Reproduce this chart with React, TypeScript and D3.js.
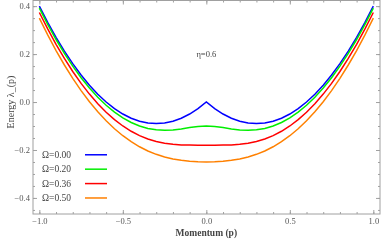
import React, { useEffect, useRef } from "react";
import * as d3 from "d3";

const momentum = [
  -1.0, -0.95, -0.9, -0.85, -0.8, -0.75, -0.7, -0.65, -0.6, -0.55, -0.5, -0.45, -0.4, -0.35, -0.3, -0.25, -0.2, -0.15, -0.1, -0.05,
  0.0, 0.05, 0.1, 0.15, 0.2, 0.25, 0.3, 0.35, 0.4, 0.45, 0.5, 0.55, 0.6, 0.65, 0.7, 0.75, 0.8, 0.85, 0.9, 0.95, 1.0,
];

const energyOmega000 = [
  0.4, 0.3325, 0.27, 0.2125, 0.16, 0.1125, 0.07, 0.0325, 0.0, -0.0275, -0.05, -0.0675, -0.08, -0.0875, -0.09, -0.0875, -0.08, -0.0675, -0.05, -0.0275,
  0.0, -0.0275, -0.05, -0.0675, -0.08, -0.0875, -0.09, -0.0875, -0.08, -0.0675, -0.05, -0.0275, 0.0, 0.0325, 0.07, 0.1125, 0.16, 0.2125, 0.27, 0.3325, 0.4,
];

const energyOmega020 = [
  0.3917, 0.3238, 0.2608, 0.2028, 0.1497, 0.1015, 0.0583, 0.0199, -0.0136, -0.0423, -0.0662, -0.0854, -0.1, -0.1101, -0.1159, -0.1178, -0.1162, -0.112, -0.1066, -0.1019,
  -0.1, -0.1019, -0.1066, -0.112, -0.1162, -0.1178, -0.1159, -0.1101, -0.1, -0.0854, -0.0662, -0.0423, -0.0136, 0.0199, 0.0583, 0.1015, 0.1497, 0.2028, 0.2608, 0.3238, 0.3917,
];

const energyOmega036 = [
  0.3736, 0.3048, 0.2408, 0.1817, 0.1274, 0.0778, 0.0331, -0.007, -0.0425, -0.0734, -0.0999, -0.122, -0.14, -0.1541, -0.1646, -0.1718, -0.1763, -0.1787, -0.1797, -0.18,
  -0.18, -0.18, -0.1797, -0.1787, -0.1763, -0.1718, -0.1646, -0.1541, -0.14, -0.122, -0.0999, -0.0734, -0.0425, -0.007, 0.0331, 0.0778, 0.1274, 0.1817, 0.2408, 0.3048, 0.3736,
];

const energyOmega050 = [
  0.35, 0.2801, 0.2149, 0.1545, 0.0988, 0.0477, 0.0012, -0.0407, -0.0783, -0.1115, -0.1405, -0.1655, -0.1866, -0.204, -0.2181, -0.229, -0.2373, -0.2432, -0.2471, -0.2493,
  -0.25, -0.2493, -0.2471, -0.2432, -0.2373, -0.229, -0.2181, -0.204, -0.1866, -0.1655, -0.1405, -0.1115, -0.0783, -0.0407, 0.0012, 0.0477, 0.0988, 0.1545, 0.2149, 0.2801, 0.35,
];

const seriesLabels = ["Ω=0.00", "Ω=0.20", "Ω=0.36", "Ω=0.50"];
const seriesColors = ["#0000ff", "#00ee00", "#ff0000", "#ff8000"];

const xMajorTicks = [-1.0, -0.5, 0.0, 0.5, 1.0];
const yMajorTicks = [-0.4, -0.2, 0.0, 0.2, 0.4];

export default function App() {
  const ref = useRef<SVGSVGElement>(null);

  useEffect(() => {
    const width = 381;
    const height = 243;
    const margin = { top: 0.5, right: 1, bottom: 29, left: 33 };
    const innerW = width - margin.left - margin.right;
    const innerH = height - margin.top - margin.bottom;

    const svg = d3.select(ref.current);
    svg.selectAll("*").remove();
    svg.attr("width", width).attr("height", height);

    const g = svg.append("g").attr("transform", `translate(${margin.left},${margin.top})`);

    const x = d3.scaleLinear().domain([-1.038, 1.04]).range([0, innerW]);
    const y = d3.scaleLinear().domain([-0.467, 0.4235]).range([innerH, 0]);

    const allSeries = [energyOmega000, energyOmega020, energyOmega036, energyOmega050];

    // curves
    const line = d3
      .line<number>()
      .x((_, i) => x(momentum[i]))
      .y((d) => y(d));

    allSeries.forEach((s, i) => {
      g.append("path")
        .datum(s)
        .attr("fill", "none")
        .attr("stroke", seriesColors[i])
        .attr("stroke-width", 1.5)
        .attr("d", line);
    });

    // frame
    const frameColor = "#a0a0a0";
    g.append("rect")
      .attr("width", innerW)
      .attr("height", innerH)
      .attr("fill", "none")
      .attr("stroke", frameColor)
      .attr("stroke-width", 1);

    const xMinor = d3.range(-10, 11).map((d) => d / 10);
    const yMinor = d3.range(-9, 9).map((d) => d / 20);
    const fmt = d3.format(".1f");

    const styleAxis = (sel: d3.Selection<SVGGElement, unknown, null, undefined>) => {
      sel.select(".domain").remove();
      sel.selectAll(".tick line").attr("stroke", frameColor);
      sel
        .selectAll(".tick text")
        .attr("fill", "#555")
        .attr("font-family", "'Liberation Serif', serif")
        .attr("font-size", 8.5);
    };

    // bottom / top
    g.append("g")
      .attr("transform", `translate(0,${innerH})`)
      .call(d3.axisBottom(x).tickValues(xMinor).tickSize(-2).tickFormat(() => ""))
      .call(styleAxis);
    g.append("g")
      .attr("transform", `translate(0,${innerH})`)
      .call(d3.axisBottom(x).tickValues(xMajorTicks).tickSize(-4).tickPadding(4).tickFormat((d) => fmt(d as number)))
      .call(styleAxis);
    g.append("g")
      .call(d3.axisTop(x).tickValues(xMinor).tickSize(-2).tickFormat(() => ""))
      .call(styleAxis);
    g.append("g")
      .call(d3.axisTop(x).tickValues(xMajorTicks).tickSize(-4).tickFormat(() => ""))
      .call(styleAxis);

    // left / right
    g.append("g")
      .call(d3.axisLeft(y).tickValues(yMinor).tickSize(-2).tickFormat(() => ""))
      .call(styleAxis);
    g.append("g")
      .call(d3.axisLeft(y).tickValues(yMajorTicks).tickSize(-4).tickPadding(3).tickFormat((d) => fmt(d as number)))
      .call(styleAxis);
    g.append("g")
      .attr("transform", `translate(${innerW},0)`)
      .call(d3.axisRight(y).tickValues(yMinor).tickSize(-2).tickFormat(() => ""))
      .call(styleAxis);
    g.append("g")
      .attr("transform", `translate(${innerW},0)`)
      .call(d3.axisRight(y).tickValues(yMajorTicks).tickSize(-4).tickFormat(() => ""))
      .call(styleAxis);

    // axis labels
    svg
      .append("text")
      .attr("x", margin.left + x(0))
      .attr("y", 236)
      .attr("text-anchor", "middle")
      .attr("font-family", "'Liberation Serif', serif")
      .attr("font-weight", "bold")
      .attr("font-size", 9.5)
      .attr("fill", "#444")
      .text("Momentum (p)");

    svg
      .append("text")
      .attr("transform", `translate(14,${margin.top + y(0)}) rotate(-90)`)
      .attr("text-anchor", "middle")
      .attr("font-family", "'Liberation Serif', serif")
      .attr("font-size", 10)
      .attr("fill", "#444")
      .text("Energy λ_(p)");

    // annotation
    g.append("text")
      .attr("x", x(0.0))
      .attr("y", y(0.2) + 2.5)
      .attr("text-anchor", "middle")
      .attr("font-family", "'Liberation Serif', serif")
      .attr("font-size", 8.5)
      .attr("fill", "#444")
      .text("η=0.6");

    // legend
    const legend = g.append("g").attr("transform", `translate(9,${y(-0.22)})`);
    seriesLabels.forEach((lab, i) => {
      const row = legend.append("g").attr("transform", `translate(0,${i * 14.4})`);
      row
        .append("text")
        .attr("x", 0)
        .attr("y", 3.2)
        .attr("font-family", "'Liberation Serif', serif")
        .attr("font-size", 9.5)
        .attr("fill", "#444")
        .text(lab);
      row
        .append("line")
        .attr("x1", 43)
        .attr("x2", 65)
        .attr("y1", 0)
        .attr("y2", 0)
        .attr("stroke", seriesColors[i])
        .attr("stroke-width", 1.5);
    });
  }, []);

  return (
    <div style={{ position: "fixed", left: 0, top: 0 }}>
      <svg ref={ref} style={{ display: "block" }} />
    </div>
  );
}
